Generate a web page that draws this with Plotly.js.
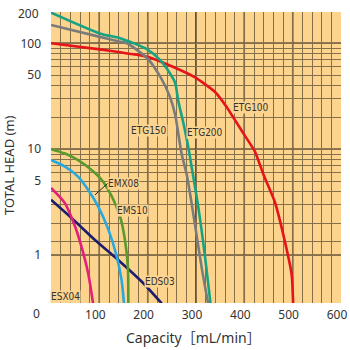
<!DOCTYPE html>
<html>
<head>
<meta charset="utf-8">
<script src="https://cdn.plot.ly/plotly-3.0.1.min.js"></script>
<style>html,body{margin:0;padding:0;background:#fff;}#chart{width:350px;height:350px;}</style>
</head>
<body>
<div id="chart"></div>
<script>
// ETG100 (red)
const etg100X = [0, 101, 143, 199, 252, 298, 339, 363, 398, 422, 440, 463, 484, 498, 501];
const etg100Y = [100, 87.7, 82.2, 74.7, 60.1, 47.7, 34.9, 25.2, 14.1, 9.5, 5.7, 3.19, 1.34, 0.65, 0.35];
// ETG200 (teal)
const etg200X = [0, 101, 143, 199, 226, 246, 257, 263, 274, 284, 291, 305, 319, 330];
const etg200Y = [195, 124, 111.5, 87.7, 69.5, 52.1, 42, 29, 17.6, 10.5, 6.8, 2.79, 0.94, 0.35];
// ETG150 (gray)
const etg150X = [0, 101, 143, 157, 199, 226, 246, 257, 270, 281, 298, 312, 325];
const etg150Y = [149, 115, 103.5, 100, 72.2, 48.4, 31.3, 21, 9.15, 5.7, 1.92, 0.75, 0.35];
// EMS10 (green)
const ems10X = [0, 29, 56, 84, 105, 126, 143, 153, 159, 160];
const ems10Y = [10, 9.1, 7.9, 6.37, 5.12, 3.56, 2.31, 1.39, 0.78, 0.35];
// EMX08 (blue)
const emx08X = [0, 29, 56, 77, 98, 119, 136, 146, 151];
const emx08Y = [7.9, 6.84, 5.5, 4.12, 2.86, 1.73, 0.97, 0.58, 0.35];
// ESX04 (magenta)
const esx04X = [0, 29, 50, 63, 77, 87];
const esx04Y = [4.3, 3.08, 1.85, 1.2, 0.67, 0.35];
// EDS03 (navy)
const eds03X = [0, 43, 91, 139, 188, 229];
const eds03Y = [3.33, 2.23, 1.39, 0.9, 0.56, 0.35];

const xTickVals = [100, 200, 300, 400, 500, 600];
const xTickText = ['100', '200', '300', '400', '500', '600'];
const yGridVals = [1, 1.35, 2, 3, 4, 5, 6, 7, 8, 9, 10, 20, 30, 40, 50, 60, 70, 80, 90, 100];
const yGridText = ['1', '', '', '', '', '5', '', '', '', '', '10', '', '', '', '50', '', '', '', '', '100'];
const xMajorLines = [100, 200, 300, 400, 500];
const yMajorLines = [1, 10, 100];

function curve(x, y, color, smooth) {
  return {x: x, y: y, type: 'scatter', mode: 'lines',
    line: {color: color, width: 2.6, shape: 'spline', smoothing: smooth},
    hoverinfo: 'skip'};
}

const data = [
  curve(eds03X, eds03Y, '#1c1d6e', 0.7),
  curve(esx04X, esx04Y, '#e2207a', 0.7),
  curve(emx08X, emx08Y, '#27a8e0', 0.7),
  curve(ems10X, ems10Y, '#5a9a2c', 0.7),
  curve(etg100X, etg100Y, '#e5141b', 0.5),
  curve(etg150X, etg150Y, '#7b7b7b', 0.7),
  curve(etg200X, etg200Y, '#17a383', 0.7)
];

const gridMinor = '#86704a';
const gridMajor = '#231d14';
const bg = '#FDD48E';

const shapes = [];
xMajorLines.forEach(v => shapes.push({type: 'line', xref: 'x', yref: 'paper', x0: v, x1: v, y0: 0, y1: 1, layer: 'below', line: {color: gridMajor, width: 1.4}}));
yMajorLines.forEach(v => shapes.push({type: 'line', xref: 'paper', yref: 'y', x0: 0, x1: 1, y0: v, y1: v, layer: 'below', line: {color: gridMajor, width: 1.4}}));
// leader line for EMX08
shapes.push({type: 'line', xref: 'x', yref: 'y', x0: 91, y0: 3.7, x1: 118, y1: 4.79, line: {color: '#222', width: 1}});

const lblFont = {family: 'DejaVu Sans Condensed, Liberation Sans Narrow, Noto Sans, sans-serif', size: 10, color: '#333'};
function lbl(text, x, y) {
  return {text: text, x: x, y: Math.log10(y), xref: 'x', yref: 'y', showarrow: false, font: lblFont, bgcolor: bg, borderpad: 0};
}
const tickFont = {family: 'Noto Sans, Open Sans, sans-serif', size: 12, color: '#333'};

const annotations = [
  lbl('ETG150', 203, 14.9),
  lbl('ETG200', 318, 14.5),
  lbl('ETG100', 414, 24.5),
  lbl('EMX08', 149, 4.79),
  lbl('EMS10', 168, 2.61),
  lbl('EDS03', 225, 0.56),
  lbl('ESX04', 29, 0.41),
  {text: '200', xref: 'paper', yref: 'paper', x: 0, y: 1, xanchor: 'right', yanchor: 'middle', xshift: -10, yshift: -1, showarrow: false, font: tickFont},
  {text: '0', xref: 'paper', yref: 'paper', x: 0, y: 0, xanchor: 'right', yanchor: 'middle', xshift: -9, yshift: -10, showarrow: false, font: tickFont},
  {text: 'TOTAL HEAD (m)', xref: 'paper', yref: 'paper', x: 0, y: 0.474, textangle: -90, xanchor: 'center', yanchor: 'middle', xshift: -42, showarrow: false, font: {family: 'Noto Sans, Open Sans, sans-serif', size: 13, color: '#333'}},
  {text: 'Capacity［mL/min］', xref: 'paper', yref: 'paper', x: 0.493, y: 0, xanchor: 'center', yanchor: 'middle', yshift: -34, showarrow: false, font: {family: 'Noto Sans, Noto Sans CJK JP, sans-serif', size: 14, color: '#333'}}
];

const layout = {
  width: 350, height: 350,
  margin: {l: 51, r: 9, t: 12, b: 47, pad: 0},
  paper_bgcolor: '#ffffff',
  plot_bgcolor: bg,
  showlegend: false,
  xaxis: {
    range: [0, 600], tickmode: 'array', tickvals: xTickVals, ticktext: xTickText,
    showgrid: true, gridcolor: gridMinor, gridwidth: 1,
    minor: {tick0: 0, dtick: 20, showgrid: true, gridcolor: gridMinor, gridwidth: 1, ticks: ''},
    zeroline: false, showline: false, ticks: '', tickfont: tickFont,
    ticklabelstandoff: 3, ticklabelshift: -4, fixedrange: true
  },
  yaxis: {
    type: 'log', range: [Math.log10(0.353), Math.log10(197.5)],
    tickmode: 'array', tickvals: yGridVals, ticktext: yGridText,
    showgrid: true, gridcolor: gridMinor, gridwidth: 1,
    zeroline: false, showline: false, ticks: '', tickfont: tickFont,
    ticklabelstandoff: 9, fixedrange: true
  },
  shapes: shapes,
  annotations: annotations
};

Plotly.newPlot('chart', data, layout, {staticPlot: true, displayModeBar: false});
</script>
</body>
</html>
